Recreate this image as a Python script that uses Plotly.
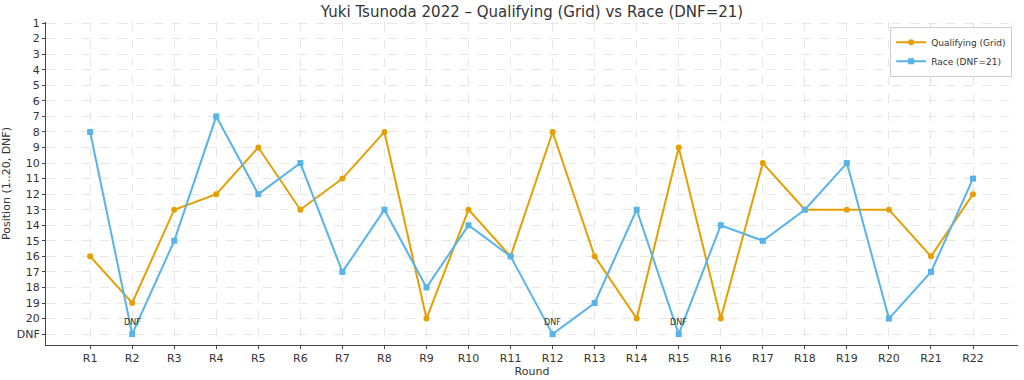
import plotly.graph_objects as go

rounds = [f"R{i}" for i in range(1, 23)]
qualifying = [16, 19, 13, 12, 9, 13, 11, 8, 20, 13, 16, 8, 16, 20, 9, 20, 10, 13, 13, 13, 16, 12]
race = [8, 21, 15, 7, 12, 10, 17, 13, 18, 14, 16, 21, 19, 13, 21, 14, 15, 13, 10, 20, 17, 11]
ytick_vals = list(range(1, 22))
ytick_text = [str(i) for i in range(1, 21)] + ["DNF"]
DNF_VALUE = 21

ORANGE = "#E69F00"
BLUE = "#56B4E9"
FONT = "DejaVu Sans"

fig = go.Figure()
fig.add_trace(go.Scatter(
    x=rounds, y=qualifying, mode="lines+markers", name="Qualifying (Grid)",
    line=dict(color=ORANGE, width=2), marker=dict(symbol="circle", size=6, color=ORANGE)))
fig.add_trace(go.Scatter(
    x=rounds, y=race, mode="lines+markers", name="Race (DNF=21)",
    line=dict(color=BLUE, width=2), marker=dict(symbol="square", size=6, color=BLUE)))

for r, v in zip(rounds, race):
    if v == DNF_VALUE:
        fig.add_annotation(x=r, y=v, text="DNF", showarrow=False, yshift=12,
                           font=dict(family=FONT, size=8, color="#333"))

fig.update_layout(
    width=1024, height=380,
    margin=dict(l=46, r=6, t=22, b=35, autoexpand=False),
    paper_bgcolor="white", plot_bgcolor="white",
    font=dict(family=FONT, color="#333"),
    title=dict(text="Yuki Tsunoda 2022 – Qualifying (Grid) vs Race (DNF=21)",
               x=532 / 1024, xanchor="center", y=1 - 12 / 380, yanchor="middle",
               font=dict(family=FONT, size=15, color="#333")),
    legend=dict(x=0.994, y=0.985, xanchor="right", yanchor="top",
                bgcolor="rgba(255,255,255,0.9)", bordercolor="#ccc", borderwidth=1,
                font=dict(family=FONT, size=9, color="#333"),
                tracegroupgap=0, itemwidth=30, entrywidth=0),
    showlegend=True,
)
fig.update_xaxes(
    type="category", range=[-1.05, 22.07], automargin=False,
    title=dict(text="Round", font=dict(family=FONT, size=11, color="#333"), standoff=0),
    tickfont=dict(family=FONT, size=11, color="#333"),
    showgrid=True, gridcolor="#e6e6e6", griddash="dash", gridwidth=1,
    showline=True, linecolor="#444", linewidth=1,
    ticks="outside", ticklen=3, tickcolor="#444", zeroline=False,
)
fig.update_yaxes(
    range=[21.7, 0.93], tickvals=ytick_vals, ticktext=ytick_text, automargin=False,
    title=dict(text="Position (1..20, DNF)", font=dict(family=FONT, size=11, color="#333"), standoff=4),
    tickfont=dict(family=FONT, size=11, color="#333"),
    showgrid=True, gridcolor="#e6e6e6", griddash="dash", gridwidth=1,
    showline=True, linecolor="#444", linewidth=1,
    ticks="outside", ticklen=3, tickcolor="#444", zeroline=False,
)

fig.write_html("out.html", config={"displayModeBar": False},
               post_script="document.body.style.margin='0';")
